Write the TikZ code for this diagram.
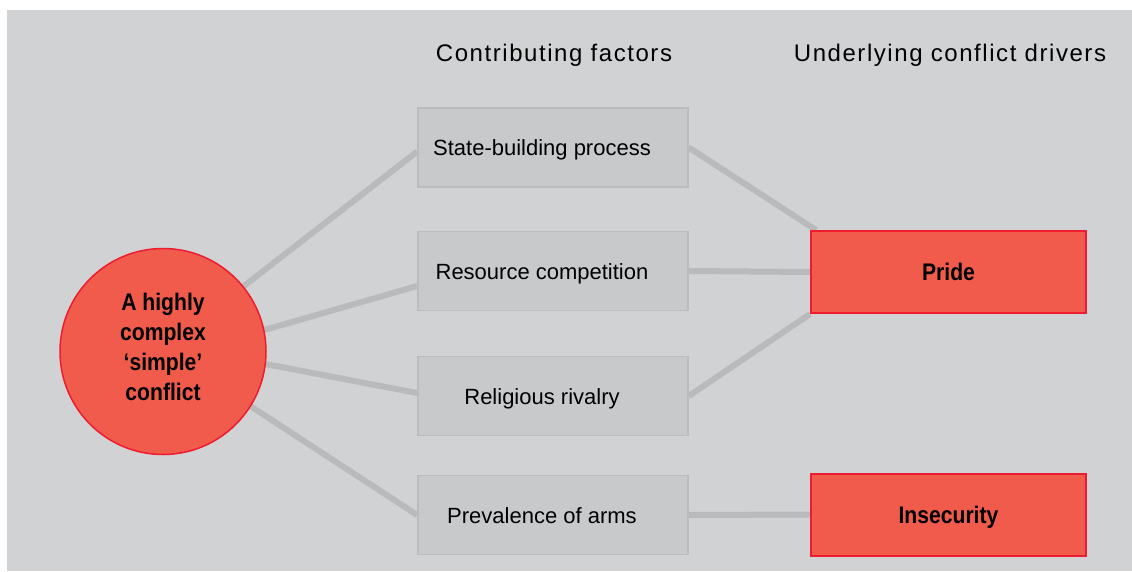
\documentclass[tikz,border=0pt]{standalone}
\usepackage{fontspec}
\setmainfont{Liberation Sans}
\newfontfamily\headfont[LetterSpace=6.5]{Liberation Sans}
\newfontfamily\strongfont[FakeStretch=0.88]{Liberation Sans Bold}
\usetikzlibrary{backgrounds}

\definecolor{panelgray}{HTML}{D1D2D4}
\definecolor{boxgray}{HTML}{C8C9CB}
\definecolor{boxline}{HTML}{BBBCBE}
\definecolor{linkgray}{HTML}{B8BABC}
\definecolor{driverred}{HTML}{F15B4C}
\definecolor{driverline}{HTML}{ED1C2E}

\tikzset{
    factor/.style={draw=boxline, line width=1.5pt, fill=boxgray,
        minimum width=270pt, minimum height=79pt, inner sep=0pt},
    factortext/.style={font=\fontsize{22}{26}\selectfont,
        text height=16pt, text depth=0pt, xshift=-11pt},
    driver/.style={draw=driverline, line width=2pt, fill=driverred,
        minimum width=275pt, minimum height=82pt, inner sep=0pt,
        text height=17pt, text depth=0pt,
        font=\strongfont\fontsize{24}{28}\selectfont},
    heading/.style={font=\headfont\fontsize{24}{28}\selectfont, anchor=base},
    link/.style={draw=linkgray, line width=6pt},
}

\begin{document}
\begin{tikzpicture}[x=1pt, y=-1pt]
    \useasboundingbox (0,0) rectangle (1132,571);

    % column headings
    \node [heading] (hfactors) at (554,61) {Contributing factors};
    \node [heading] (hdrivers) at (950,61) {Underlying conflict drivers};

    % the conflict
    \node [circle, draw=driverline, line width=1.5pt, fill=driverred,
        minimum size=206pt, inner sep=0pt,
        label={[name=conflicttext, align=center, yshift=4.5pt,
            font=\strongfont\fontsize{24}{30}\selectfont]center:A highly\\complex\\‘simple’\\conflict}]
        (conflict) at (163,351.5) {};

    % contributing factors
    \node [factor, label={[name=f1text, factortext]center:State-building process}] (f1) at (553,147.5) {};
    \node [factor, label={[name=f2text, factortext]center:Resource competition}] (f2) at (553,271) {};
    \node [factor, label={[name=f3text, factortext]center:Religious rivalry}] (f3) at (553,396) {};
    \node [factor, label={[name=f4text, factortext]center:Prevalence of arms}] (f4) at (553,515) {};

    % drivers
    \node [driver] (pride) at (948.5,272) {Pride};
    \node [driver] (insecurity) at (948.5,514.5) {Insecurity};

    \begin{scope}[on background layer]
        \fill [panelgray] (7,10) rectangle (1132,571);
        \draw [link] (conflict.39) -- ([yshift=-4pt]f1.west);
        \draw [link] (conflict.12) -- ([yshift=-15pt]f2.west);
        \draw [link] (conflict.-7.5) -- ([yshift=3pt]f3.west);
        \draw [link] (conflict.-32) -- (f4.west);
        \draw [link] (f1.east) -- ([xshift=6pt]pride.north west);
        \draw [link] (f2.east) -- (pride.west);
        \draw [link] (f3.east) -- (pride.south west);
        \draw [link] (f4.east) -- (insecurity.west);
    \end{scope}
\end{tikzpicture}
\end{document}
